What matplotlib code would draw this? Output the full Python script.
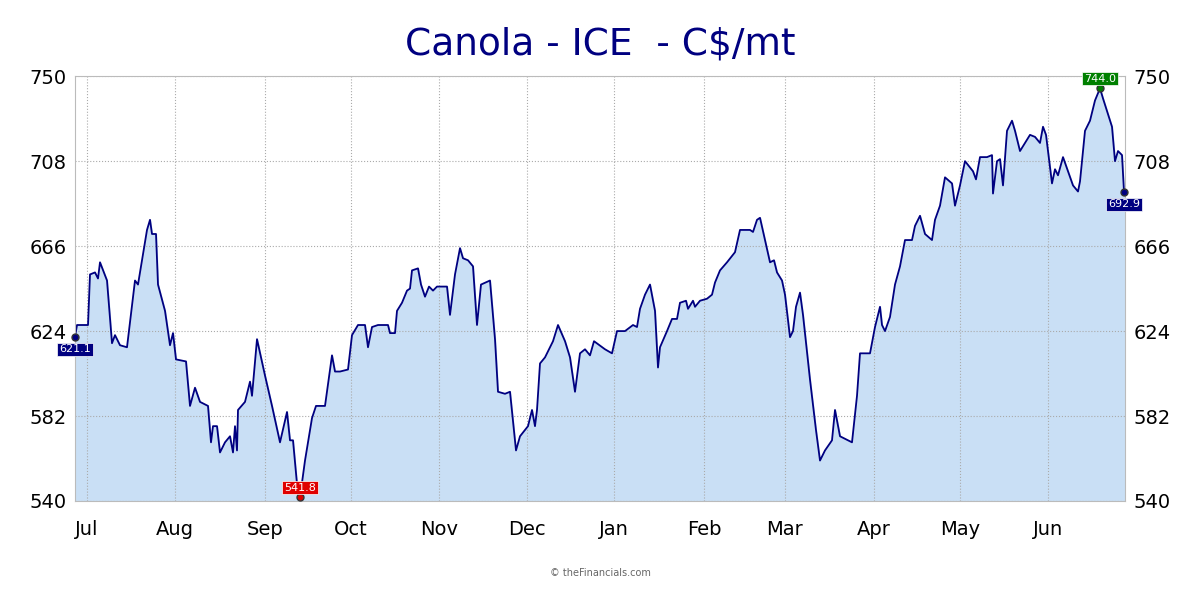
import matplotlib
matplotlib.use("Agg")
import matplotlib.pyplot as plt

# time position (chart units, ~0.34 day each) and price C$/mt
t = [0, 2, 13, 15, 20, 23, 25, 32, 37, 40, 45, 52, 60, 63, 72, 75, 77, 81, 83, 90, 95, 98, 101, 111,
     115, 120, 125, 133, 136, 138, 142, 145, 150, 155, 158, 160, 162, 163, 170, 175, 177, 182, 190,
     197, 205, 212, 215, 218, 223, 225, 230, 237, 241, 250, 257, 260, 265, 273, 277, 283, 290, 293,
     297, 303, 313, 315, 320, 322, 327, 332, 335, 337, 343, 346, 350, 354, 358, 362, 372, 375, 380,
     385, 388, 393, 398, 402, 406, 415, 420, 423, 430, 435, 441, 445, 453, 457, 460, 462, 465, 470,
     478, 483, 490, 495, 500, 505, 510, 515, 519, 530, 537, 542, 550, 558, 562, 565, 570, 575, 580,
     583, 585, 592, 597, 602, 605, 611, 613, 618, 620, 625, 632, 637, 640, 645, 652, 660, 665, 675,
     678, 682, 685, 690, 695, 699, 702, 707, 710, 715, 718, 721, 725, 728, 735, 741, 745, 750, 757,
     760, 765, 773, 777, 782, 785, 795, 800, 805, 807, 810, 815, 820, 825, 830, 837, 840, 845, 850,
     857, 860, 865, 870, 877, 880, 885, 890, 898, 901, 905, 912, 917, 918, 922, 925, 928, 932, 937,
     940, 945, 950, 955, 960, 965, 968, 971, 973, 977, 980, 983, 988, 993, 998, 1003, 1005, 1010,
     1015, 1020, 1025, 1028, 1037, 1040, 1043, 1047, 1049]
price = [621.1, 627, 627, 652, 653, 650, 658, 649, 618, 622, 617, 616, 649, 647, 674, 679, 672, 672,
         647, 634, 617, 623, 610, 609, 587, 596, 589, 587, 569, 577, 577, 564, 569, 572, 564, 577, 565,
         585, 589, 599, 592, 620, 602, 587, 569, 584, 570, 570, 543, 541.8, 560, 581, 587, 587, 612,
         604, 604, 605, 622, 627, 627, 616, 626, 627, 627, 623, 623, 634, 638, 644, 645, 654, 655, 647,
         641, 646, 644, 646, 646, 632, 652, 665, 660, 659, 656, 627, 647, 649, 620, 594, 593, 594, 565,
         572, 577, 585, 577, 585, 608, 611, 619, 627, 619, 611, 594, 613, 615, 612, 619, 615, 613, 624,
         624, 627, 626, 635, 642, 647, 634, 606, 616, 624, 630, 630, 638, 639, 635, 639, 636, 639, 640,
         642, 648, 654, 658, 663, 674, 674, 673, 679, 680, 669, 658, 659, 653, 649, 642, 621, 624, 636,
         643, 632, 600, 575, 560, 565, 570, 585, 572, 570, 569, 592, 613, 613, 626, 636, 627, 624, 631,
         647, 656, 669, 669, 676, 681, 672, 669, 679, 686, 700, 697, 686, 696, 708, 703, 699, 710, 710,
         711, 692, 708, 709, 696, 723, 728, 723, 713, 717, 721, 720, 717, 725, 721, 713, 697, 704, 701,
         710, 703, 696, 693, 698, 723, 728, 738, 744.0, 739, 725, 708, 713, 711, 692.9]

month_pos = [12, 100, 190, 276, 364, 452, 539, 629, 710, 799, 885, 973]
month_labels = ["Jul", "Aug", "Sep", "Oct", "Nov", "Dec", "Jan", "Feb", "Mar", "Apr", "May", "Jun"]
y_ticks = [540, 582, 624, 666, 708, 750]

navy = "#000080"
fig = plt.figure(figsize=(12, 6), dpi=100)
ax = fig.add_axes([0.0625, 0.165, 0.875, 0.708])
ax.fill_between(t, price, 540, color="#c9dff5", zorder=1)
ax.plot(t, price, color=navy, lw=1.3, zorder=2)
ax.set_xlim(0, 1050)
ax.set_ylim(540, 750)
ax.set_xticks(month_pos)
ax.set_xticklabels(month_labels, fontsize=14)
ax.set_yticks(y_ticks)
ax.tick_params(axis="y", labelsize=14, right=True, labelright=True, length=0, pad=6)
ax.tick_params(axis="x", length=0, pad=14)
ax.grid(True, color="#aaaaaa", linestyle=":", lw=0.8)
for s in ax.spines.values():
    s.set_color("#bbbbbb")

imin = price.index(min(price))
imax = price.index(max(price))
marks = [(0, navy, 0, -9), (imin, "#e00000", 0, 7), (imax, "#008000", 0, 7), (len(t) - 1, navy, 0, -9)]
for i, c, dx, dy in marks:
    ax.plot(t[i], price[i], "o", ms=5, color=c, mec="#333333", zorder=4, clip_on=False)
    ax.annotate(f"{price[i]:.1f}", (t[i], price[i]), xytext=(dx, dy), textcoords="offset points",
                ha="center", va="center", fontsize=8, color="white",
                bbox=dict(boxstyle="square,pad=0.15", fc=c, ec="white", lw=0.5), zorder=5)

fig.text(0.5, 0.925, "Canola - ICE  - C$/mt", ha="center", va="center", fontsize=27, color=navy)
fig.text(0.5, 0.04, "© theFinancials.com", ha="center", fontsize=7, color="#666666")
fig.savefig("out.png")
